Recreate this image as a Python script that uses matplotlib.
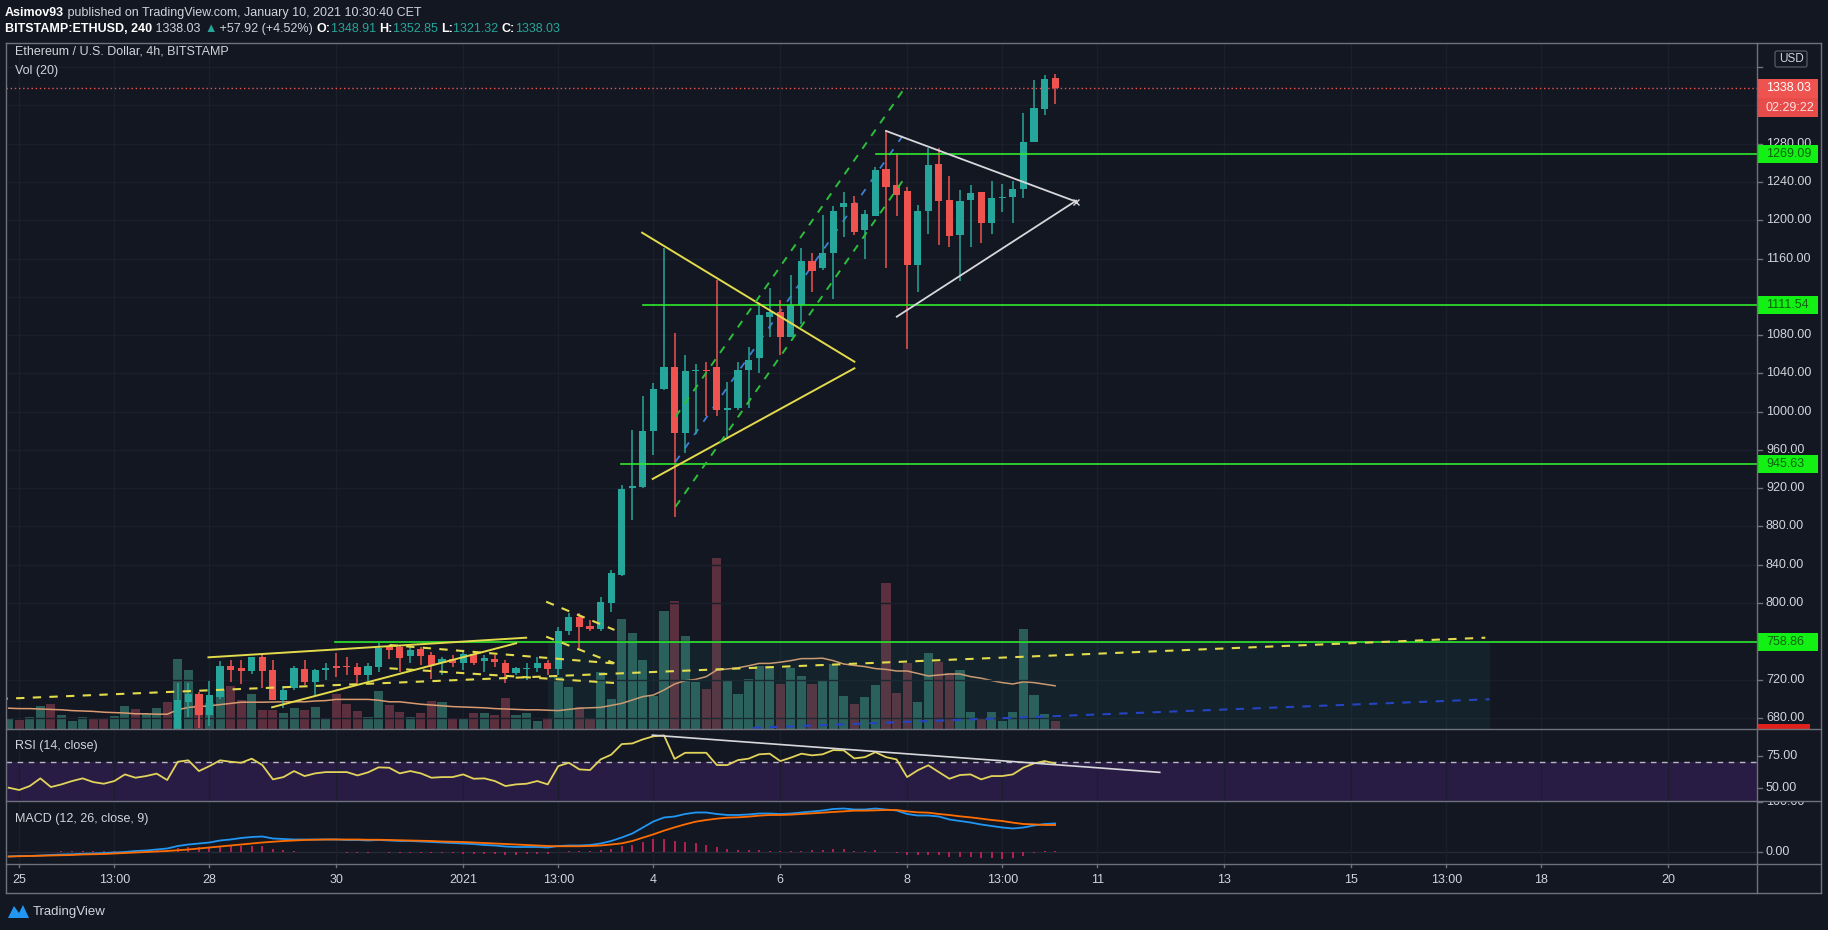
import numpy as np
import pandas as pd
import matplotlib
matplotlib.use('Agg')
import matplotlib.pyplot as plt
from matplotlib.patches import Rectangle, FancyBboxPatch, Polygon

plt.rcParams['font.family'] = ['Liberation Sans', 'DejaVu Sans']

# ETHUSD 4h candles (BITSTAMP), first bar 2020-12-24 21:00 CET
t0 = pd.Timestamp('2020-12-24 21:00')
opens = [612, 615, 611, 622, 630, 619, 625, 628, 636, 629, 627, 633, 646, 637, 642, 655,
         645, 697, 705, 683, 702, 734, 732, 729, 744, 730, 699, 711, 731, 717, 730, 734.6,
         733.5, 733.5, 724.8, 733.5, 754.4, 754.4, 744.7, 751.6, 745.7, 737, 741.2, 737.7, 746.8, 739.4,
         741.2, 737.7, 726.5, 731, 732.5, 737.7, 731, 770.8, 785.8, 776, 772.9, 800, 829, 920,
         921, 980, 1024, 1047, 978, 1042, 1044, 1047, 1002, 1004, 1044, 1056, 1099, 1104, 1078,
         1111, 1157, 1150, 1166, 1214, 1218, 1190, 1204, 1254, 1237, 1231, 1153, 1210, 1259, 1221,
         1185, 1221, 1229, 1197, 1223, 1224, 1233, 1282, 1316, 1348.91]
highs = [618, 620, 625, 635, 633, 628, 631, 640, 638, 634, 636, 650, 648, 645, 660, 658,
         716, 716, 707, 719, 739, 741, 741, 744, 748, 741, 713, 734, 740, 731, 737, 747.4,
         744, 737, 737, 758, 756, 756, 754, 754, 749, 744, 745.7, 751, 749, 745.7,
         745.7, 740.5, 733.5, 737, 744, 740.5, 775.3, 789.2, 789.2, 782.3, 806.7, 835, 923, 981,
         1016, 1030, 1171, 1082, 1059, 1050, 1052, 1138, 1031, 1052, 1068, 1111, 1129, 1117, 1143,
         1171, 1166, 1205, 1215, 1230, 1225, 1211, 1256, 1294, 1270, 1235, 1216, 1275, 1275, 1246,
         1232, 1237, 1230, 1241, 1238, 1241, 1312, 1347, 1352, 1352.85]
lows = [606, 609, 610, 618, 615, 616, 621, 626, 625, 624, 625, 631, 632, 635, 640, 640,
        640, 681, 669, 672, 700, 718, 715, 726, 711, 699, 690, 709, 714, 704, 720, 723,
        725, 716, 718.5, 728.3, 742, 728.3, 737, 735, 721, 725, 733.5, 730, 735, 727.6,
        733.5, 716.1, 724.8, 719.6, 728.3, 724.8, 724.8, 766.6, 750.9, 770.8, 770.8, 791, 828, 887,
        920, 955, 1023, 890, 957, 977, 995, 995, 974, 1002, 1004, 1040, 1078, 1059, 1078,
        1092, 1125, 1148, 1118, 1183, 1185, 1160, 1204, 1150, 1204, 1065, 1125, 1186, 1174, 1172,
        1136, 1172, 1176, 1186, 1209, 1197, 1223, 1282, 1310, 1321.32]
closes = [615, 611, 622, 630, 619, 625, 628, 636, 629, 627, 633, 646, 637, 642, 655, 645,
          699, 705, 683, 704, 734, 730, 729, 744, 729, 699, 709, 732, 717, 730, 732.5, 732.5,
          733, 724.8, 734.2, 752.7, 751, 742.2, 751, 744.7, 735.3, 741.2, 737, 746.8, 737, 742.2,
          738.7, 727.3, 731.8, 732.5, 737.7, 731, 770.8, 785.8, 775.3, 772.9, 801.4, 831, 919, 922,
          980, 1024, 1047, 978, 1042, 1044, 1042, 1002, 1004, 1044, 1054, 1101, 1104, 1078, 1111,
          1157, 1147, 1166, 1210, 1218, 1188, 1207, 1253, 1235, 1226, 1153, 1210, 1258, 1220, 1184,
          1220, 1228, 1197, 1223, 1224, 1233, 1282, 1317, 1348, 1338.03]
volumes = [2.5, 2.25, 3.1, 5.8, 6.2, 3.5, 2.1, 3.1, 2.5, 2.5, 3.3, 5.75, 5.0, 3.7, 5.3, 6.8,
           17.4, 14.75, 6.0, 6.5, 9.75, 10.75, 7.25, 8.75, 4.75, 4.75, 3.9, 5.2, 4.75, 5.6, 2.5, 8.7,
           6.25, 4.6, 2.9, 9.6, 6.0, 4.3, 3.0, 4.1, 7.1, 6.8, 2.7, 2.8, 4.1, 3.9,
           3.5, 7.8, 3.5, 3.9, 2.1, 2.8, 13.1, 10.6, 5.6, 2.7, 14.2, 7.5, 27.6, 24.0,
           17.2, 8.3, 29.5, 32.0, 23.3, 11.8, 10.0, 42.8, 12.0, 8.8, 12.5, 15.8, 15.8, 11.2, 15.3,
           13.3, 11.3, 12.3, 16.3, 8.3, 6.3, 8.1, 11.1, 36.6, 9.0, 16.4, 6.8, 19.1, 16.8, 13.9,
           14.8, 4.3, 2.5, 4.3, 2.1, 4.3, 25.1, 8.6, 3.8, 2.1]
vol_ma = [5.2, 5.1, 5.1, 5.0, 4.9, 4.8, 4.6, 4.5, 4.4, 4.2, 4.1, 4.0, 3.8, 3.8, 3.7, 3.7,
          4.8, 5.4, 5.6, 5.8, 6.1, 6.4, 6.7, 6.7, 6.7, 6.75, 6.8, 6.8, 6.8, 7.0, 7.1, 7.4,
          7.4, 7.4, 7.4, 7.2, 6.8, 6.8, 6.5, 6.2, 6.0, 5.8, 5.6, 5.5, 5.4, 5.3,
          5.1, 5.0, 4.9, 4.8, 4.8, 4.7, 4.6, 4.9, 5.2, 5.3, 5.4, 5.9, 6.4, 7.25,
          8.1, 8.5, 9.75, 11.25, 12.1, 12.4, 13.1, 14.75, 15.0, 15.3, 15.8, 16.4, 16.4, 16.7, 17.1,
          17.6, 17.6, 17.7, 17.1, 16.25, 15.9, 15.6, 15.1, 14.9, 14.5, 14.5, 13.9, 13.25, 13.5, 13.75,
          13.75, 13.1, 12.7, 12.1, 11.6, 11.25, 11.8, 11.6, 11.2, 10.8]
rsi = [50.2, 48.4, 51.5, 57.5, 50.7, 52.8, 55.4, 57.5, 54.6, 53.3, 55.4, 60.6, 58, 59.3, 61.2, 56.2,
       70.5, 71.6, 63.2, 67.1, 71.6, 70.5, 69.7, 72.9, 67.9, 56.7, 58.5, 63.2, 59.3, 61.4, 62.4, 62.4,
       62.4, 59.8, 62.2, 66.1, 65.8, 61.4, 63.2, 61.4, 58, 58.5, 58.5, 60.6, 57.2, 57.5,
       55.4, 51.5, 52.8, 53.3, 55.4, 52.8, 67.1, 69.7, 64.5, 64, 72.3, 76, 84.3, 84.8,
       88, 90.4, 91.1, 72.7, 77.5, 77.5, 77.5, 67.9, 67.9, 71.8, 72.9, 76.3, 76.8, 71, 73.7,
       76.8, 75.5, 76.3, 79.6, 79.4, 73.1, 74.1, 78, 74.1, 72.3, 58.5, 63.8, 67.7, 62.4, 57.2,
       60.1, 60.6, 56.7, 59.3, 59.3, 60.6, 65.9, 69.2, 71, 69.2]
macd = [-9, -8, -8, -7, -6, -5, -4.5, -3.5, -3, -2, -1, 0, 2, 3, 5, 7,
        12, 15, 17, 19, 23, 25, 28, 30, 31, 27, 26, 25, 25, 25, 25, 25,
        24, 24, 23, 24, 23, 22, 22, 21, 20, 19, 18, 17, 16, 14,
        13, 11, 10, 10, 10, 9, 12, 13, 13, 14, 17, 22, 29, 37,
        49, 61, 69, 71, 76, 79, 79, 76, 74, 74, 75, 77, 77, 76, 77,
        79, 81, 83, 86, 87, 85, 85, 87, 85, 83, 76, 73, 73, 71, 65,
        62, 59, 55, 52, 49, 47, 49, 53, 56, 57]
signal = [-9, -8.5, -8, -7.5, -7, -6.5, -6, -5, -4.5, -4, -3, -2, -1, 0, 1, 2,
          3.5, 5, 7, 9, 11, 13, 15, 17, 19, 20.5, 22, 23, 24, 24.5, 25, 25,
          25, 25, 24.5, 24.5, 24, 23.5, 23, 22.5, 22, 21, 20.5, 20, 19, 18,
          17, 16, 15, 14, 13, 12, 11.5, 11.5, 11.5, 12, 13, 15, 17.3, 22,
          28.7, 35.3, 42.7, 49.3, 55.3, 60.7, 64, 66.7, 68.7, 69.3, 70.7, 72.7, 74, 74, 74.7,
          76, 77.3, 78.7, 80, 81.3, 82.7, 82.7, 83.3, 84, 84, 81.3, 79.3, 78.7, 76, 74,
          71.3, 69.3, 66.7, 64, 62, 58.7, 56, 55.3, 54, 54]

# time axis labels
tick_times = ['2020-12-25 01:00', '2020-12-26 13:00', '2020-12-28 01:00', '2020-12-30 01:00',
              '2021-01-01 01:00', '2021-01-02 13:00', '2021-01-04 01:00', '2021-01-06 01:00',
              '2021-01-08 01:00', '2021-01-09 13:00', '2021-01-11 01:00', '2021-01-13 01:00',
              '2021-01-15 01:00', '2021-01-16 13:00', '2021-01-18 01:00', '2021-01-20 01:00']
tick_labels = ['25', '13:00', '28', '30', '2021', '13:00', '4', '6', '8', '13:00',
               '11', '13', '15', '13:00', '18', '20']
price_ticks = [680, 720, 760, 800, 840, 880, 920, 960, 1000, 1040, 1080, 1120, 1160, 1200,
               1240, 1280, 1320, 1360]

# drawings on the chart: (bar index, price)
levels = [1269.09, 1111.54, 945.63, 758.86]
level_from = [82.1, 60.0, 57.9, 30.9]
yellow_solid = [((59.93, 1187.0), (80.01, 1052.2)), ((60.93, 929.7), (80.01, 1045.3)),
                ((18.9, 743.3), (48.96, 763.8)), ((24.93, 691.1), (48.01, 758.0))]
yellow_dashed = [((-0.87, 699.8), (139.7, 763.8)), ((36.03, 756.2), (57.31, 736.9)),
                 ((36.03, 731.8), (57.31, 716.5)), ((50.85, 801.4), (57.31, 771.9)),
                 ((50.85, 764.9), (57.31, 737.1))]
green_dashed = [((63.09, 994.7), (84.75, 1337.9)), ((63.09, 900.7), (84.75, 1243.9))]
channel_mid = ((63.09, 947.7), (84.75, 1290.9))
white_lines = [((83.01, 1293.3), (101.0, 1219.4)), ((84.02, 1099.2), (101.0, 1220.5))]
blue_dashed = ((70.4, 669.6), (140.1, 699.5))
zone = (51.0, 140.1, 640, 758.86)
rsi_line = ((60.9, 91.3), (108.9, 62.2))

bg = '#131722'
txt = '#d1d4dc'
up = '#26a69a'
down = '#ef5350'
grid = '#1b1f2b'
sep = '#6f727c'
lime = '#2ee82e'
yel = '#e3db4c'

W, H = 1828, 930
fig = plt.figure(figsize=(W / 100, H / 100), dpi=100, facecolor=bg)


def rect(x0, y0, x1, y1):
    return [x0 / W, 1 - y1 / H, (x1 - x0) / W, (y1 - y0) / H]


L, R = 6, 1757
xlim = (-0.25, 165.4)
ylim_p = (668.4, 1385.2)

ax_vol = fig.add_axes(rect(L, 43, R, 729))
ax = fig.add_axes(rect(L, 43, R, 729))
ax_rsi = fig.add_axes(rect(L, 729, R, 801))
ax_macd = fig.add_axes(rect(L, 801, R, 864))
ax_time = fig.add_axes(rect(L, 864, R, 893))
ax_pc = fig.add_axes(rect(R, 43, 1821, 729))
ax_rc = fig.add_axes(rect(R, 729, 1821, 801))
ax_mc = fig.add_axes(rect(R, 801, 1821, 864))

for a in [ax_vol, ax, ax_rsi, ax_macd, ax_time, ax_pc, ax_rc, ax_mc]:
    a.set_xticks([])
    a.set_yticks([])
    for s in a.spines.values():
        s.set_visible(False)
    a.set_facecolor(bg)
ax.patch.set_alpha(0)

for a in [ax_vol, ax, ax_rsi, ax_macd, ax_time]:
    a.set_xlim(*xlim)

tick_pos = [(pd.Timestamp(t) - t0) / pd.Timedelta('4h') for t in tick_times]
idx = np.arange(len(closes))
o = np.array(opens)
c = np.array(closes)
hi = np.array(highs)
lo = np.array(lows)
colors = np.where(c >= o, up, down)

# ---- volume layer
ax_vol.set_ylim(0, 171.5)
vcol = np.where(c >= o, '#2c5c58', '#5b2f3d')
ax_vol.bar(idx, volumes, width=0.86, color=vcol, zorder=2)
ax_vol.plot(idx, vol_ma, color='#d99a70', lw=1.1, zorder=3)
for p in tick_pos:
    ax_vol.axvline(p, color=grid, lw=1, zorder=0)

# ---- price layer
ax.set_ylim(*ylim_p)
for p in price_ticks:
    ax.axhline(p, color=grid, lw=1, zorder=0)
ax.add_patch(Rectangle((zone[0], zone[2]), zone[1] - zone[0], zone[3] - zone[2],
                       facecolor=up, alpha=0.08, edgecolor='none', zorder=1))
ax.axhline(1338.03, color=down, lw=1, ls=(0, (1, 2)), zorder=2)

ax.vlines(idx, lo, hi, colors=colors, lw=1.1, zorder=4)
body = np.maximum(np.abs(c - o), 0.9)
ax.bar(idx, body, bottom=np.minimum(o, c), width=0.68, color=colors, zorder=5)

for lv, k0 in zip(levels, level_from):
    ax.plot([k0, xlim[1]], [lv, lv], color=lime, lw=1.2, zorder=6)
for (a0, a1) in yellow_solid:
    ax.plot([a0[0], a1[0]], [a0[1], a1[1]], color=yel, lw=1.4, zorder=6)
for (a0, a1) in yellow_dashed:
    ax.plot([a0[0], a1[0]], [a0[1], a1[1]], color=yel, lw=1.5, ls=(0, (4, 4)), zorder=6)
for (a0, a1) in green_dashed:
    ax.plot([a0[0], a1[0]], [a0[1], a1[1]], color='#2bbf3a', lw=1.4, ls=(0, (4, 4)), zorder=6)
ax.plot([channel_mid[0][0], channel_mid[1][0]], [channel_mid[0][1], channel_mid[1][1]],
        color='#3f7fd6', lw=1.3, ls=(0, (4, 5)), zorder=3)
for (a0, a1) in white_lines:
    ax.plot([a0[0], a1[0]], [a0[1], a1[1]], color='#d8d8dc', lw=1.3, zorder=6)
ax.plot([white_lines[0][1][0]], [white_lines[0][1][1]], marker='x', ms=4, color='#d8d8dc', zorder=6)
ax.plot([blue_dashed[0][0], blue_dashed[1][0]], [blue_dashed[0][1], blue_dashed[1][1]],
        color='#2444c4', lw=1.5, ls=(0, (4, 4)), zorder=3)

ax.text(9 / 1751, 1 - 9 / 686, 'Ethereum / U.S. Dollar, 4h, BITSTAMP', transform=ax.transAxes,
        color=txt, fontsize=9, va='center', ha='left')
ax.text(9 / 1751, 1 - 28 / 686, 'Vol (20)', transform=ax.transAxes,
        color=txt, fontsize=9, va='center', ha='left')

# ---- RSI
ax_rsi.set_ylim(39.8, 96.1)
ax_rsi.axhspan(30, 70, color='#281c44', zorder=0)
ax_rsi.axhline(70, color='#b8bac2', lw=1, ls=(0, (4, 4)), zorder=1)
for p in tick_pos:
    ax_rsi.axvline(p, color=grid, lw=1, zorder=0.5)
ax_rsi.plot(idx, rsi, color='#e2d35a', lw=1.3, zorder=3)
ax_rsi.plot([rsi_line[0][0], rsi_line[1][0]], [rsi_line[0][1], rsi_line[1][1]],
            color='#d8d8dc', lw=1.2, zorder=4)
ax_rsi.text(9 / 1751, 1 - 17 / 72, 'RSI (14, close)', transform=ax_rsi.transAxes,
            color=txt, fontsize=9, va='center', ha='left')

# ---- MACD
ax_macd.set_ylim(-24, 102)
ax_macd.axhline(0, color='#262a36', lw=1, zorder=0)
for p in tick_pos:
    ax_macd.axvline(p, color=grid, lw=1, zorder=0)
hist = np.array(macd) - np.array(signal)
ax_macd.vlines(idx, 0, hist, colors='#e0245e', lw=1.1, zorder=2)
ax_macd.plot(idx, macd, color='#2196f3', lw=1.3, zorder=3)
ax_macd.plot(idx, signal, color='#ff6d00', lw=1.3, zorder=3)
ax_macd.text(9 / 1751, 1 - 18 / 63, 'MACD (12, 26, close, 9)', transform=ax_macd.transAxes,
             color=txt, fontsize=9, va='center', ha='left')

# ---- time axis
ax_time.set_ylim(29, 0)
for p, lab in zip(tick_pos, tick_labels):
    ax_time.plot([p, p], [0, 3], color=sep, lw=1)
    ax_time.text(p, 16, lab, color=txt, fontsize=9, ha='center', va='center')

# ---- price column
ax_pc.set_ylim(*ylim_p)
ax_pc.set_xlim(0, 64)
ppx = (ylim_p[1] - ylim_p[0]) / 686
usd_y = ylim_p[1] - 16 * ppx
timer_y = 1338.03 - 19.5 * ppx
covered = levels + [1338.03, timer_y, usd_y]
for p in price_ticks:
    ax_pc.plot([0, 5], [p, p], color=sep, lw=1, zorder=1)
    if min(abs(p - q) for q in covered) < 10 * ppx:
        continue  # label sits under a tag, as on the original
    ax_pc.text(9, p, f'{p:.2f}', color=txt, fontsize=9, va='center', ha='left', zorder=2)


def tag(a, y, label, face, fg, h=18):
    a.add_patch(Rectangle((0, y - h / 2 * ppx), 61, h * ppx, facecolor=face, edgecolor='none', zorder=3))
    a.text(9, y, label, color=fg, fontsize=9, va='center', ha='left', zorder=4)


for lv in levels:
    tag(ax_pc, lv, f'{lv:.2f}', '#13f013', '#0d640d')
tag(ax_pc, 1338.03, '1338.03', '#ef5350', 'white', h=19)
tag(ax_pc, timer_y, '02:29:22', '#e84c4a', '#fbe3e3', h=19)
ax_pc.add_patch(Rectangle((0, ylim_p[0]), 53, 5 * ppx, facecolor='#e0201c', edgecolor='none', zorder=3))
ax_pc.add_patch(FancyBboxPatch((18, ylim_p[1] - 24 * ppx), 32, 16 * ppx,
                               boxstyle='round,pad=0,rounding_size=2', mutation_aspect=ppx,
                               facecolor=bg, edgecolor='#50535e', lw=1, zorder=5))
ax_pc.text(34, usd_y, 'USD', color=txt, fontsize=8.5, ha='center', va='center', zorder=6)

ax_rc.set_ylim(39.8, 96.1)
ax_rc.set_xlim(0, 64)
ax_mc.set_ylim(-24, 102)
ax_mc.set_xlim(0, 64)
for a, vals in [(ax_rc, [75, 50]), (ax_mc, [100, 0])]:
    for v in vals:
        a.plot([0, 5], [v, v], color=sep, lw=1)
        a.text(9, v, f'{v:.2f}', color=txt, fontsize=9, va='center', ha='left', clip_on=True)

# ---- frame and separators
fl = fig.add_axes([0, 0, 1, 1], facecolor='none')
fl.set_xlim(0, W)
fl.set_ylim(H, 0)
fl.axis('off')
for yy in [43, 729, 801, 864, 893]:
    fl.plot([L, 1821], [yy, yy], color=sep, lw=1)
for xx in [L, R, 1821]:
    fl.plot([xx, xx], [43, 893], color=sep, lw=1)

# ---- header
r = fig.canvas.get_renderer()


def run(x, y, parts):
    for s, col, wt in parts:
        t = fl.text(x, y, s, color=col, fontsize=9, fontweight=wt, va='center', ha='left')
        bb = t.get_window_extent(renderer=r)
        x += bb.width


run(5, 13, [('Asimov93', 'white', 'bold'),
            (' published on TradingView.com, January 10, 2021 10:30:40 CET', txt, 'normal')])
run(5, 29, [('BITSTAMP:ETHUSD, 240', 'white', 'bold'), (' 1338.03 ', txt, 'normal'),
            ('\u25b2', up, 'normal'), (' +57.92 (+4.52%) ', txt, 'normal'),
            ('O:', 'white', 'bold'), ('1348.91 ', up, 'normal'),
            ('H:', 'white', 'bold'), ('1352.85 ', up, 'normal'),
            ('L:', 'white', 'bold'), ('1321.32 ', up, 'normal'),
            ('C:', 'white', 'bold'), ('1338.03', up, 'normal')])

# TradingView logo
fl.add_patch(Polygon([[8, 918], [14, 906], [19, 913], [23, 905], [29, 918]], closed=True,
                     facecolor='#2196f3', edgecolor='none'))
fl.text(33, 912, 'TradingView', color=txt, fontsize=9.5, va='center', ha='left')

fig.savefig('out.png', dpi=100, facecolor=bg)
